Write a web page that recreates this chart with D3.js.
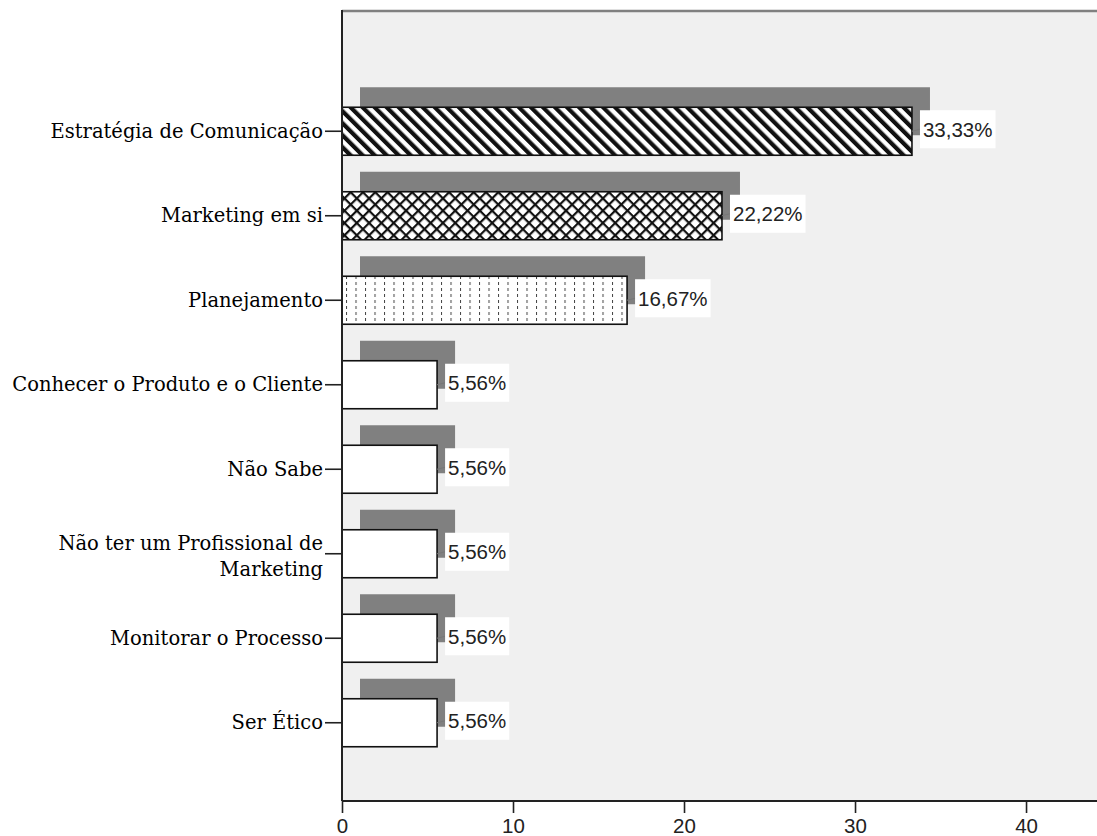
<!DOCTYPE html>
<html>
<head>
<meta charset="utf-8">
<script src="https://cdn.jsdelivr.net/npm/d3@7"></script>
<style>
  html, body { margin: 0; padding: 0; background: #ffffff; }
  svg { display: block; }
</style>
</head>
<body>
<svg id="chart" width="1097" height="836"></svg>
<script>
// Categories (top to bottom) and their percentages
const categories = [
  "Estratégia de Comunicação",
  "Marketing em si",
  "Planejamento",
  "Conhecer o Produto e o Cliente",
  "Não Sabe",
  "Não ter um Profissional de\nMarketing",
  "Monitorar o Processo",
  "Ser Ético"
];
const percentages = [33.33, 22.22, 16.67, 5.56, 5.56, 5.56, 5.56, 5.56];
const xTicks = [0, 10, 20, 30, 40];

// Fill style per bar
const barFills = ["url(#stripes)", "url(#crosshatch)", "url(#dots)", "#ffffff", "#ffffff", "#ffffff", "#ffffff", "#ffffff"];

const W = 1097, H = 836;
const plotLeft = 342, plotTop = 11, plotBottom = 801;
const svg = d3.select("#chart");

const x = d3.scaleLinear().domain([0, 44.15]).range([plotLeft, W]);
const y = d3.scaleBand().domain(categories).range([89, 765])
  .paddingInner(0.432).paddingOuter(0.216);

// Hatch patterns
const defs = svg.append("defs");
const stripes = defs.append("pattern").attr("id", "stripes")
  .attr("patternUnits", "userSpaceOnUse").attr("width", 8.5).attr("height", 8.5)
  .attr("patternTransform", "rotate(-45)");
stripes.append("rect").attr("width", 8.5).attr("height", 8.5).attr("fill", "#ffffff");
stripes.append("rect").attr("width", 4.2).attr("height", 8.5).attr("fill", "#111111");

const cross = defs.append("pattern").attr("id", "crosshatch")
  .attr("patternUnits", "userSpaceOnUse").attr("width", 8.7).attr("height", 8.7)
  .attr("patternTransform", "rotate(45)");
cross.append("rect").attr("width", 8.7).attr("height", 8.7).attr("fill", "#ffffff");
cross.append("rect").attr("width", 2.2).attr("height", 8.7).attr("fill", "#111111");
cross.append("rect").attr("width", 8.7).attr("height", 2.2).attr("fill", "#111111");

const dots = defs.append("pattern").attr("id", "dots")
  .attr("patternUnits", "userSpaceOnUse").attr("width", 9.5).attr("height", 6)
  .attr("x", plotLeft + 4);
dots.append("rect").attr("width", 9.5).attr("height", 6).attr("fill", "#ffffff");
dots.append("rect").attr("width", 1).attr("height", 3).attr("fill", "#444444");

// Plot background
svg.append("rect")
  .attr("x", plotLeft).attr("y", plotTop)
  .attr("width", W - plotLeft).attr("height", plotBottom - plotTop)
  .attr("fill", "#f0f0f0");
svg.append("line")
  .attr("x1", plotLeft).attr("x2", W).attr("y1", plotTop).attr("y2", plotTop)
  .attr("stroke", "#808080").attr("stroke-width", 2.5);

const rows = categories.map((c, i) => ({ cat: c, value: percentages[i], fill: barFills[i] }));

// Drop shadows behind the bars
const shadowDx = 18, shadowDy = -20;
svg.append("g").selectAll("rect").data(rows).join("rect")
  .attr("x", x(0) + shadowDx)
  .attr("y", d => y(d.cat) + shadowDy)
  .attr("width", d => x(d.value) - x(0))
  .attr("height", y.bandwidth())
  .attr("fill", "#808080");

// Bars
svg.append("g").selectAll("rect").data(rows).join("rect")
  .attr("x", x(0))
  .attr("y", d => y(d.cat))
  .attr("width", d => x(d.value) - x(0))
  .attr("height", y.bandwidth())
  .attr("fill", d => d.fill)
  .attr("stroke", "#111111").attr("stroke-width", 1.6);

// Value labels with leader lines and white boxes
const fmt = v => d3.format(".2f")(v).replace(".", ",") + "%";
const labelFont = "'Liberation Sans', Arial, sans-serif";
const lab = svg.append("g").selectAll("g").data(rows).join("g")
  .attr("transform", d => `translate(${x(d.value)},${y(d.cat) + y.bandwidth() / 2})`);
lab.append("line")
  .attr("x1", 0).attr("y1", 0).attr("x2", 8).attr("y2", -2)
  .attr("stroke", "#777777").attr("stroke-width", 1.2);
lab.append("text")
  .attr("x", 11).attr("y", -2)
  .attr("dominant-baseline", "central")
  .attr("font-family", labelFont).attr("font-size", 20.5)
  .attr("fill", "#222222")
  .text(d => fmt(d.value));
lab.each(function () {
  const g = d3.select(this);
  const bb = g.select("text").node().getBBox();
  g.insert("rect", "text")
    .attr("x", bb.x - 3).attr("y", -2 - 19)
    .attr("width", bb.width + 6).attr("height", 38)
    .attr("fill", "#ffffff");
});

// Left axis with category labels
const yAxis = svg.append("g").attr("transform", `translate(${plotLeft},0)`)
  .call(d3.axisLeft(y).tickSize(17).tickPadding(2).tickFormat(""));
yAxis.select(".domain").remove();
yAxis.selectAll(".tick line").attr("stroke", "#222222").attr("stroke-width", 1.6);
yAxis.selectAll(".tick").each(function (d) {
  const lines = d.split("\n");
  const t = d3.select(this).append("text")
    .attr("x", -19).attr("text-anchor", "end")
    .attr("font-family", "'DejaVu Serif', serif").attr("font-size", 19.5)
    .attr("fill", "#000000");
  const lh = 26;
  lines.forEach((ln, k) => {
    t.append("tspan").attr("x", -19)
      .attr("dy", k === 0 ? (-(lines.length - 1) * lh / 2 + 6.5 + (lines.length > 1 ? 3 : 0)) : lh)
      .text(ln);
  });
});
svg.append("line")
  .attr("x1", plotLeft).attr("x2", plotLeft).attr("y1", plotTop - 1).attr("y2", plotBottom)
  .attr("stroke", "#222222").attr("stroke-width", 2);

// Bottom axis
const xAxis = svg.append("g").attr("transform", `translate(0,${plotBottom})`)
  .call(d3.axisBottom(x).tickValues(xTicks).tickSize(12).tickPadding(5).tickFormat(d3.format("d")));
xAxis.select(".domain").attr("stroke", "#222222").attr("stroke-width", 2)
  .attr("d", `M${plotLeft},0H${W}`);
xAxis.selectAll(".tick line").attr("stroke", "#222222").attr("stroke-width", 1.6);
xAxis.selectAll(".tick text")
  .attr("font-family", labelFont).attr("font-size", 20.5).attr("fill", "#222222");
</script>
</body>
</html>
